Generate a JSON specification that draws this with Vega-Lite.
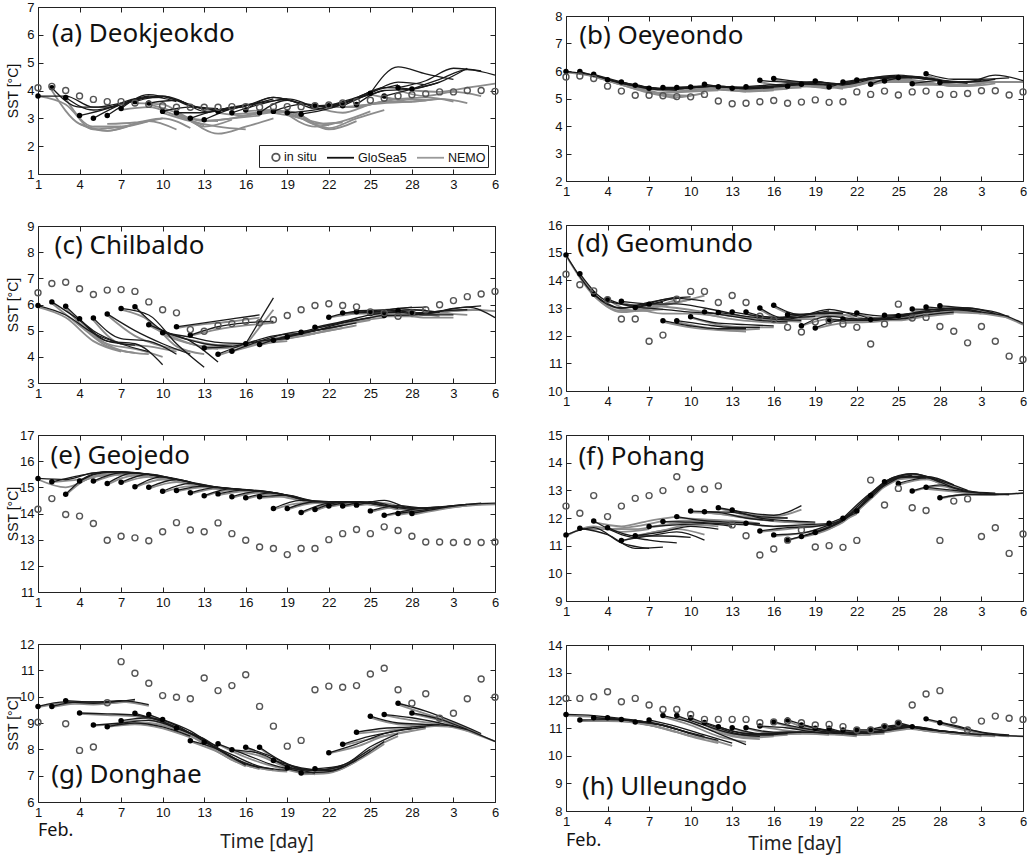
{
"padding": {"left": 5, "top": 0, "right": 4, "bottom": 4},
"background": "white",
"config": {
  "view": {"stroke": "#222", "strokeWidth": 1},
  "axis": {"domain": false, "grid": false, "ticks": true, "tickSize": -5, "tickColor": "#222", "tickWidth": 1, "labelFont": "Liberation Sans", "labelFontSize": 13, "labelColor": "#111", "labelPadding": 9, "labelFlush": false, "labelOverlap": false, "titleFont": "Liberation Sans", "titleFontSize": 14, "titleFontWeight": "normal", "titleColor": "#111"},
  "text": {"font": "Noto Sans", "fontSize": 26, "align": "left", "baseline": "alphabetic", "color": "#111"}
},
"datasets": {
"obs": [
{"p":"a","d":[1,2,3,4,5,6,7,8,9,10,11,12,13,14,15,16,17,18,19,20,21,22,23,24,25,26,27,28,29,30,31,32,33,34],"v":[4.1,4.15,4.0,3.8,3.68,3.6,3.6,3.55,3.5,3.45,3.4,3.4,3.4,3.4,3.42,3.42,3.4,3.42,3.42,3.42,3.45,3.48,3.55,3.6,3.65,3.72,3.8,3.85,3.88,3.95,3.95,4.0,4.0,3.97]},
{"p":"b","d":[1,2,3,4,5,6,7,8,9,10,11,12,13,14,15,16,17,18,19,20,21,22,23,24,25,26,27,28,29,30,31,32,33,34],"v":[5.78,5.82,5.73,5.45,5.27,5.12,5.12,5.1,5.07,5.06,5.15,4.91,4.81,4.83,4.88,4.93,4.83,4.87,4.95,4.86,4.88,5.24,5.15,5.27,5.13,5.24,5.27,5.15,5.15,5.18,5.28,5.28,5.13,5.24]},
{"p":"c","d":[1,2,3,4,5,6,7,8,9,10,11,12,13,14,15,16,17,18,19,20,21,22,23,24,25,26,27,28,29,30,31,32,33,34],"v":[6.45,6.8,6.85,6.6,6.38,6.55,6.57,6.5,6.1,5.8,5.68,5.04,4.98,5.2,5.27,5.36,5.3,5.42,5.58,5.8,5.96,6.03,5.96,5.91,5.72,5.68,5.55,5.68,5.8,5.99,6.15,6.3,6.4,6.5]},
{"p":"d","d":[1,2,3,4,5,6,7,8,9,10,11,12,13,14,15,16,17,18,19,20,21,22,23,24,25,26,27,28,29,30,31,32,33,34],"v":[14.22,13.84,13.62,13.3,12.6,12.6,11.8,12.02,13.32,13.6,13.6,13.2,13.45,13.2,12.7,12.58,12.3,12.13,12.5,12.54,12.42,12.3,11.7,12.42,13.14,12.64,12.66,12.33,12.16,11.74,12.33,11.8,11.26,11.14]},
{"p":"e","d":[1,2,3,4,5,6,7,8,9,10,11,12,13,14,15,16,17,18,19,20,21,22,23,24,25,26,27,28,29,30,31,32,33,34],"v":[14.16,14.57,13.96,13.9,13.62,12.98,13.13,13.07,12.96,13.3,13.65,13.37,13.3,13.64,13.23,12.98,12.72,12.66,12.43,12.66,12.66,13.0,13.23,13.39,13.23,13.49,13.35,13.13,12.91,12.91,12.89,12.91,12.89,12.91]},
{"p":"f","d":[1,2,3,4,5,6,7,8,9,10,11,12,13,14,15,16,17,18,19,20,21,22,23,24,25,26,27,28,29,30,31,32,33,34],"v":[12.43,12.17,12.81,12.05,12.43,12.71,12.81,12.99,13.49,13.04,13.04,13.16,11.75,11.36,10.66,10.88,11.2,11.57,10.95,11.0,10.94,11.19,13.37,12.47,13.07,12.37,12.27,11.19,12.61,12.69,11.33,11.65,10.72,11.42]},
{"p":"g","d":[1,2,3,4,5,6,7,8,9,10,11,12,13,14,15,16,17,18,19,20,21,22,23,24,25,26,27,28,29,30,31,32,33,34],"v":[9.03,null,8.97,7.96,8.09,9.77,11.33,10.89,10.51,10.04,9.98,9.92,10.71,10.23,10.42,10.83,9.63,8.88,8.12,8.34,10.26,10.4,10.36,10.42,10.86,11.08,10.26,9.75,10.11,9.18,9.37,9.92,10.67,9.98]},
{"p":"h","d":[1,2,3,4,5,6,7,8,9,10,11,12,13,14,15,16,17,18,19,20,21,22,23,24,25,26,27,28,29,30,31,32,33,34],"v":[12.07,12.07,12.13,12.31,11.95,12.07,11.83,11.67,11.67,11.49,11.31,11.31,11.31,11.31,11.19,11.22,11.25,11.19,11.11,11.13,11.05,10.93,10.93,11.05,11.17,11.83,12.23,12.35,11.29,10.93,11.25,11.43,11.35,11.31]}
],
"fc": [
{"p":"a","f":1,"d":[1,3,5,7],"g":[3.8,3.8,3.4,3.55],"n":[3.8,3.5,2.6,2.7]},
{"p":"a","f":2,"d":[2,4,6,8],"g":[4.1,3.4,3.4,3.7],"n":[4.0,2.8,2.55,2.8]},
{"p":"a","f":3,"d":[3,5,7,9],"g":[3.75,3.3,3.5,3.8],"n":[3.7,2.7,2.7,2.9]},
{"p":"a","f":4,"d":[4,6,8,10],"g":[3.1,3.35,3.7,3.75],"n":[2.8,2.55,2.8,3.0]},
{"p":"a","f":5,"d":[5,7,9,11],"g":[3.0,3.5,3.8,3.6],"n":[2.7,2.7,2.9,2.6]},
{"p":"a","f":6,"d":[6,8,10,12],"g":[3.1,3.65,3.8,3.45],"n":[2.8,2.85,3.0,2.65]},
{"p":"a","f":7,"d":[7,9,11,13],"g":[3.35,3.85,3.65,3.3],"n":[3.3,3.4,3.1,2.75]},
{"p":"a","f":8,"d":[8,10,12,14],"g":[3.6,3.8,3.45,3.35],"n":[3.55,3.5,3.0,2.9]},
{"p":"a","f":9,"d":[9,11,13,15],"g":[3.55,3.65,3.25,3.4],"n":[3.5,3.2,2.7,2.95]},
{"p":"a","f":10,"d":[10,12,14,16],"g":[3.25,3.4,3.3,3.45],"n":[3.2,2.9,2.7,2.6]},
{"p":"a","f":11,"d":[11,13,15,17],"g":[3.2,3.2,3.4,3.55],"n":[3.15,2.9,3.0,3.1]},
{"p":"a","f":12,"d":[12,14,16,18],"g":[3.0,3.3,3.45,3.7],"n":[2.95,2.45,2.7,3.0]},
{"p":"a","f":13,"d":[13,15,17,19],"g":[2.95,3.35,3.55,3.7],"n":[2.9,3.0,3.2,3.25]},
{"p":"a","f":14,"d":[14,16,18,20],"g":[3.25,3.45,3.75,3.5],"n":[3.2,3.1,3.3,3.0]},
{"p":"a","f":15,"d":[15,17,19,21],"g":[3.2,3.5,3.7,3.35],"n":[3.15,3.2,3.25,2.8]},
{"p":"a","f":16,"d":[16,18,20,22],"g":[3.3,3.75,3.55,3.4],"n":[3.25,3.3,3.0,2.75]},
{"p":"a","f":17,"d":[17,19,21,23],"g":[3.2,3.65,3.35,3.55],"n":[3.15,3.25,2.8,2.85]},
{"p":"a","f":18,"d":[18,20,22,24],"g":[3.25,3.5,3.4,3.75],"n":[3.2,3.0,2.6,2.9]},
{"p":"a","f":19,"d":[19,21,23,25],"g":[3.2,3.3,3.55,3.9],"n":[3.15,2.7,2.9,3.25]},
{"p":"a","f":20,"d":[20,22,24,26],"g":[3.15,3.35,3.7,4.0],"n":[3.1,2.65,3.0,3.3]},
{"p":"a","f":21,"d":[21,23,25,27],"g":[3.45,3.55,3.95,4.2],"n":[3.4,3.2,3.5,3.7]},
{"p":"a","f":22,"d":[22,24,26,28],"g":[3.45,3.75,4.1,4.05],"n":[3.4,3.4,3.6,3.6]},
{"p":"a","f":23,"d":[23,25,27,29],"g":[3.45,3.9,4.3,4.2],"n":[3.4,3.5,3.7,3.65]},
{"p":"a","f":24,"d":[24,26,28,30],"g":[3.5,4.0,4.05,4.3],"n":[3.45,3.55,3.6,3.7]},
{"p":"a","f":25,"d":[25,27,29,31],"g":[3.9,4.85,4.6,4.4],"n":[3.85,3.7,3.75,3.6]},
{"p":"a","f":26,"d":[26,28,30,32],"g":[3.8,4.05,4.3,4.8],"n":[3.75,3.6,3.7,3.55]},
{"p":"a","f":27,"d":[27,29,31,33],"g":[4.1,4.35,4.8,4.7],"n":[4.0,3.8,3.95,3.8]},
{"p":"a","f":28,"d":[28,30,32,34],"g":[4.05,4.4,4.75,4.55],"n":[4.0,3.95,4.1,4.25]},
{"p":"b","f":1,"d":[1,3,5,7],"g":[5.98,5.85,5.55,5.4],"n":[5.95,5.8,5.5,5.3]},
{"p":"b","f":2,"d":[2,4,6,8],"g":[5.98,5.7,5.45,5.35],"n":[5.95,5.65,5.35,5.15]},
{"p":"b","f":3,"d":[3,5,7,9],"g":[5.88,5.6,5.35,5.3],"n":[5.85,5.5,5.2,5.0]},
{"p":"b","f":4,"d":[4,6,8,10],"g":[5.68,5.5,5.35,5.4],"n":[5.65,5.4,5.15,5.1]},
{"p":"b","f":5,"d":[5,7,9,11],"g":[5.6,5.4,5.35,5.45],"n":[5.55,5.25,5.05,5.2]},
{"p":"b","f":6,"d":[6,8,10,12],"g":[5.48,5.35,5.4,5.45],"n":[5.45,5.2,5.25,5.3]},
{"p":"b","f":7,"d":[7,9,11,13],"g":[5.37,5.35,5.45,5.4],"n":[5.35,5.25,5.35,5.3]},
{"p":"b","f":8,"d":[8,10,12,14],"g":[5.4,5.4,5.45,5.35],"n":[5.38,5.3,5.35,5.25]},
{"p":"b","f":9,"d":[9,11,13,15],"g":[5.4,5.45,5.4,5.4],"n":[5.38,5.35,5.3,5.3]},
{"p":"b","f":10,"d":[10,12,14,16],"g":[5.42,5.45,5.35,5.4],"n":[5.4,5.35,5.25,5.3]},
{"p":"b","f":11,"d":[11,13,15,17],"g":[5.52,5.4,5.4,5.45],"n":[5.5,5.3,5.3,5.35]},
{"p":"b","f":12,"d":[12,14,16,18],"g":[5.43,5.4,5.45,5.5],"n":[5.4,5.3,5.35,5.4]},
{"p":"b","f":13,"d":[13,15,17,19],"g":[5.37,5.4,5.5,5.55],"n":[5.35,5.3,5.4,5.45]},
{"p":"b","f":14,"d":[14,16,18,20],"g":[5.43,5.5,5.55,5.5],"n":[5.4,5.4,5.45,5.35]},
{"p":"b","f":15,"d":[15,17,19,21],"g":[5.66,5.6,5.6,5.5],"n":[5.6,5.45,5.45,5.35]},
{"p":"b","f":16,"d":[16,18,20,22],"g":[5.73,5.6,5.5,5.6],"n":[5.7,5.5,5.4,5.5]},
{"p":"b","f":17,"d":[17,19,21,23],"g":[5.45,5.6,5.5,5.7],"n":[5.42,5.5,5.4,5.6]},
{"p":"b","f":18,"d":[18,20,22,24],"g":[5.52,5.5,5.65,5.75],"n":[5.5,5.4,5.55,5.65]},
{"p":"b","f":19,"d":[19,21,23,25],"g":[5.64,5.5,5.75,5.8],"n":[5.6,5.4,5.6,5.7]},
{"p":"b","f":20,"d":[20,22,24,26],"g":[5.42,5.65,5.75,5.75],"n":[5.4,5.55,5.65,5.6]},
{"p":"b","f":21,"d":[21,23,25,27],"g":[5.6,5.75,5.85,5.7],"n":[5.55,5.6,5.7,5.6]},
{"p":"b","f":22,"d":[22,24,26,28],"g":[5.67,5.75,5.8,5.65],"n":[5.65,5.65,5.65,5.5]},
{"p":"b","f":23,"d":[23,25,27,29],"g":[5.52,5.8,5.7,5.6],"n":[5.5,5.65,5.55,5.45]},
{"p":"b","f":24,"d":[24,26,28,30],"g":[5.64,5.8,5.65,5.55],"n":[5.6,5.6,5.5,5.45]},
{"p":"b","f":25,"d":[25,27,29,31],"g":[5.76,5.75,5.6,5.65],"n":[5.7,5.6,5.45,5.5]},
{"p":"b","f":26,"d":[26,28,30,32],"g":[5.54,5.65,5.6,5.7],"n":[5.5,5.5,5.45,5.55]},
{"p":"b","f":27,"d":[27,29,31,33],"g":[5.9,5.7,5.7,5.75],"n":[5.85,5.6,5.6,5.6]},
{"p":"b","f":28,"d":[28,30,32,34],"g":[5.58,5.6,5.85,5.65],"n":[5.55,5.5,5.6,5.6]},
{"p":"c","f":1,"d":[1,3,5,7],"g":[5.96,5.6,4.9,4.5],"n":[5.9,5.5,4.6,4.2]},
{"p":"c","f":2,"d":[2,4,6,8],"g":[6.1,5.4,4.6,4.45],"n":[6.05,5.2,4.4,4.15]},
{"p":"c","f":3,"d":[3,5,7,9],"g":[5.93,5.0,4.5,4.2],"n":[5.85,4.8,4.25,4.1]},
{"p":"c","f":4,"d":[4,6,8,10],"g":[5.46,4.6,4.5,3.7],"n":[5.4,4.5,4.3,4.0]},
{"p":"c","f":5,"d":[5,7,9,11],"g":[5.48,4.7,4.6,4.1],"n":[5.4,4.5,4.4,4.2]},
{"p":"c","f":6,"d":[6,8,10,12],"g":[5.64,5.0,4.5,4.1],"n":[5.6,4.8,4.4,4.2]},
{"p":"c","f":7,"d":[7,9,11,13],"g":[5.85,5.6,4.5,3.6],"n":[5.8,5.4,4.4,4.1]},
{"p":"c","f":8,"d":[8,10,12,14],"g":[5.91,5.0,4.6,3.8],"n":[5.95,4.9,4.5,4.3]},
{"p":"c","f":9,"d":[9,11,13,15],"g":[5.23,4.8,4.5,4.4],"n":[5.2,4.7,4.4,4.4]},
{"p":"c","f":10,"d":[10,12,14,16],"g":[4.92,4.75,4.55,4.5],"n":[4.9,4.65,4.45,4.5]},
{"p":"c","f":11,"d":[11,13,15,17],"g":[5.15,5.3,5.45,5.6],"n":[5.1,5.25,5.35,5.5]},
{"p":"c","f":12,"d":[12,14,16,18],"g":[4.83,5.15,5.3,5.35],"n":[4.8,5.05,5.2,5.3]},
{"p":"c","f":13,"d":[13,15,17,19],"g":[4.34,4.4,4.6,4.7],"n":[4.3,4.35,4.5,4.6]},
{"p":"c","f":14,"d":[14,16,18,20],"g":[4.1,4.5,4.8,4.9],"n":[4.05,4.4,4.7,4.8]},
{"p":"c","f":15,"d":[15,17,19,21],"g":[4.21,4.6,4.9,5.0],"n":[4.2,4.5,4.8,4.9]},
{"p":"c","f":16,"d":[16,18],"g":[4.5,6.25],"n":[4.45,5.8]},
{"p":"c","f":17,"d":[17,19,21,23],"g":[4.47,4.8,5.0,5.2],"n":[4.45,4.7,4.9,5.1]},
{"p":"c","f":18,"d":[18,20,22,24],"g":[4.63,4.9,5.1,5.3],"n":[4.6,4.8,5.0,5.2]},
{"p":"c","f":19,"d":[19,21,23,25],"g":[4.76,5.0,5.3,5.5],"n":[4.7,4.9,5.2,5.4]},
{"p":"c","f":20,"d":[20,22,24,26],"g":[4.94,5.2,5.4,5.6],"n":[4.9,5.1,5.35,5.5]},
{"p":"c","f":21,"d":[21,23,25,27],"g":[5.13,5.35,5.6,5.75],"n":[5.1,5.3,5.5,5.65]},
{"p":"c","f":22,"d":[22,24,26,28],"g":[5.51,5.75,5.8,5.9],"n":[5.5,5.65,5.7,5.8]},
{"p":"c","f":23,"d":[23,25,27,29],"g":[5.68,5.7,5.85,5.9],"n":[5.65,5.65,5.75,5.8]},
{"p":"c","f":24,"d":[24,26,28,30],"g":[5.72,5.75,5.8,5.7],"n":[5.7,5.65,5.65,5.55]},
{"p":"c","f":25,"d":[25,27,29,31],"g":[5.66,5.7,5.6,5.6],"n":[5.6,5.6,5.5,5.5]},
{"p":"c","f":26,"d":[26,28,30,32],"g":[5.58,5.6,5.75,5.8],"n":[5.55,5.55,5.65,5.6]},
{"p":"c","f":27,"d":[27,29,31,33],"g":[5.77,5.65,5.85,5.95],"n":[5.7,5.6,5.75,5.8]},
{"p":"c","f":28,"d":[28,30,32,34],"g":[5.68,5.75,5.9,5.5],"n":[5.65,5.7,5.8,5.75]},
{"p":"d","f":1,"d":[1,3,5,7],"g":[14.92,13.5,13.0,13.1],"n":[14.9,13.45,12.9,12.9]},
{"p":"d","f":2,"d":[2,4,6,8],"g":[14.24,13.25,13.1,13.2],"n":[14.2,13.1,12.9,12.95]},
{"p":"d","f":3,"d":[3,5,7,9],"g":[13.5,13.0,13.2,13.4],"n":[13.45,12.85,13.0,13.3]},
{"p":"d","f":4,"d":[4,6,8,10],"g":[13.32,13.05,13.3,13.4],"n":[13.3,12.9,13.1,13.3]},
{"p":"d","f":5,"d":[5,7,9,11],"g":[13.24,13.15,13.35,13.25],"n":[13.2,13.0,13.2,13.45]},
{"p":"d","f":6,"d":[6,8,10,12],"g":[13.02,12.95,12.85,12.8],"n":[13.0,12.8,12.8,12.7]},
{"p":"d","f":7,"d":[7,9,11,13],"g":[13.14,13.15,13.0,12.8],"n":[13.1,13.0,12.85,12.7]},
{"p":"d","f":8,"d":[8,10,12,14],"g":[12.54,12.35,12.25,12.25],"n":[12.5,12.3,12.2,12.15]},
{"p":"d","f":9,"d":[9,11,13,15],"g":[12.54,12.4,12.3,12.3],"n":[12.5,12.3,12.2,12.25]},
{"p":"d","f":10,"d":[10,12,14,16],"g":[12.68,12.45,12.4,12.35],"n":[12.65,12.4,12.3,12.3]},
{"p":"d","f":11,"d":[11,13,15,17],"g":[12.86,12.7,12.55,12.5],"n":[12.8,12.6,12.5,12.45]},
{"p":"d","f":12,"d":[12,14,16,18],"g":[12.84,12.7,12.6,12.55],"n":[12.8,12.65,12.55,12.5]},
{"p":"d","f":13,"d":[13,15,17,19],"g":[12.86,12.7,12.65,12.7],"n":[12.8,12.6,12.6,12.6]},
{"p":"d","f":14,"d":[14,16,18,20],"g":[12.86,12.65,12.75,12.9],"n":[12.8,12.6,12.7,12.8]},
{"p":"d","f":15,"d":[15,17,19,21],"g":[13.0,12.6,12.8,12.8],"n":[12.95,12.55,12.7,12.7]},
{"p":"d","f":16,"d":[16,18,20,22],"g":[13.1,12.75,12.95,12.7],"n":[13.05,12.7,12.85,12.6]},
{"p":"d","f":17,"d":[17,19,21,23],"g":[12.76,12.8,12.85,12.6],"n":[12.7,12.7,12.75,12.55]},
{"p":"d","f":18,"d":[18,20,22,24],"g":[12.36,12.7,12.6,12.65],"n":[12.35,12.6,12.5,12.55]},
{"p":"d","f":19,"d":[19,21,23,25],"g":[12.28,12.55,12.55,12.7],"n":[12.25,12.45,12.5,12.6]},
{"p":"d","f":20,"d":[20,22,24,26],"g":[12.58,12.55,12.6,12.75],"n":[12.55,12.5,12.55,12.7]},
{"p":"d","f":21,"d":[21,23,25,27],"g":[12.6,12.6,12.7,12.85],"n":[12.55,12.5,12.6,12.75]},
{"p":"d","f":22,"d":[22,24,26,28],"g":[12.82,12.7,12.8,12.9],"n":[12.8,12.6,12.7,12.8]},
{"p":"d","f":23,"d":[23,25,27,29],"g":[12.58,12.6,12.75,12.85],"n":[12.55,12.55,12.7,12.8]},
{"p":"d","f":24,"d":[24,26,28,30],"g":[12.74,12.8,12.9,12.95],"n":[12.7,12.75,12.8,12.9]},
{"p":"d","f":25,"d":[25,27,29,31],"g":[12.72,12.9,13.0,12.85],"n":[12.7,12.8,12.9,12.8]},
{"p":"d","f":26,"d":[26,28,30,32],"g":[12.96,12.95,13.0,12.8],"n":[12.9,12.85,12.95,12.75]},
{"p":"d","f":27,"d":[27,29,31,33],"g":[13.04,12.95,12.85,12.7],"n":[13.0,12.85,12.8,12.65]},
{"p":"d","f":28,"d":[28,30,32,34],"g":[13.08,13.0,12.85,12.45],"n":[13.0,12.95,12.8,12.4]},
{"p":"e","f":1,"d":[1,3,5,7],"g":[15.34,15.3,15.55,15.6],"n":[15.3,15.0,15.4,15.55]},
{"p":"e","f":2,"d":[2,4,6,8],"g":[15.21,15.45,15.6,15.55],"n":[15.2,15.3,15.5,15.5]},
{"p":"e","f":3,"d":[3,5,7,9],"g":[14.74,15.5,15.6,15.5],"n":[14.7,15.4,15.5,15.45]},
{"p":"e","f":4,"d":[4,6,8,10],"g":[15.24,15.6,15.55,15.4],"n":[15.2,15.5,15.5,15.35]},
{"p":"e","f":5,"d":[5,7,9,11],"g":[15.24,15.55,15.5,15.3],"n":[15.2,15.5,15.45,15.25]},
{"p":"e","f":6,"d":[6,8,10,12],"g":[15.15,15.55,15.4,15.2],"n":[15.1,15.45,15.35,15.15]},
{"p":"e","f":7,"d":[7,9,11,13],"g":[15.19,15.5,15.3,15.05],"n":[15.15,15.4,15.25,15.0]},
{"p":"e","f":8,"d":[8,10,12,14],"g":[15.02,15.4,15.2,15.0],"n":[15.0,15.3,15.15,14.95]},
{"p":"e","f":9,"d":[9,11,13,15],"g":[15.0,15.3,15.05,14.95],"n":[14.95,15.2,15.0,14.9]},
{"p":"e","f":10,"d":[10,12,14,16],"g":[14.85,15.15,15.0,14.9],"n":[14.8,15.05,14.95,14.85]},
{"p":"e","f":11,"d":[11,13,15,17],"g":[14.88,15.05,14.95,14.85],"n":[14.85,15.0,14.9,14.8]},
{"p":"e","f":12,"d":[12,14,16,18],"g":[14.79,15.0,14.9,14.8],"n":[14.75,14.95,14.85,14.75]},
{"p":"e","f":13,"d":[13,15,17,19],"g":[14.68,14.95,14.85,14.7],"n":[14.65,14.9,14.8,14.65]},
{"p":"e","f":14,"d":[14,16,18,20],"g":[14.75,14.9,14.8,14.55],"n":[14.7,14.85,14.75,14.5]},
{"p":"e","f":15,"d":[15,17,19,21],"g":[14.64,14.85,14.7,14.45],"n":[14.6,14.8,14.6,14.4]},
{"p":"e","f":16,"d":[16,18,20,22],"g":[14.6,14.8,14.55,14.45],"n":[14.55,14.75,14.5,14.4]},
{"p":"e","f":17,"d":[17,19,21,23],"g":[14.64,14.7,14.45,14.45],"n":[14.6,14.65,14.4,14.4]},
{"p":"e","f":18,"d":[18,20,22,24],"g":[14.19,14.5,14.45,14.45],"n":[14.15,14.4,14.4,14.4]},
{"p":"e","f":19,"d":[19,21,23,25],"g":[14.19,14.45,14.45,14.4],"n":[14.15,14.4,14.4,14.35]},
{"p":"e","f":20,"d":[20,22,24,26],"g":[14.04,14.4,14.45,14.3],"n":[14.0,14.35,14.4,14.25]},
{"p":"e","f":21,"d":[21,23,25,27],"g":[14.15,14.45,14.4,14.2],"n":[14.1,14.4,14.35,14.15]},
{"p":"e","f":22,"d":[22,24,26,28],"g":[14.29,14.45,14.3,14.15],"n":[14.25,14.4,14.25,14.1]},
{"p":"e","f":23,"d":[23,25,27,29],"g":[14.29,14.45,14.25,14.2],"n":[14.25,14.4,14.2,14.15]},
{"p":"e","f":24,"d":[24,26,28,30],"g":[14.32,14.5,14.2,14.25],"n":[14.3,14.4,14.15,14.2]},
{"p":"e","f":25,"d":[25,27,29,31],"g":[14.1,14.3,14.2,14.3],"n":[14.05,14.25,14.15,14.25]},
{"p":"e","f":26,"d":[26,28,30,32],"g":[13.93,14.15,14.25,14.35],"n":[13.9,14.1,14.2,14.3]},
{"p":"e","f":27,"d":[27,29,31,33],"g":[14.0,14.15,14.3,14.4],"n":[13.95,14.1,14.25,14.35]},
{"p":"e","f":28,"d":[28,30,32,34],"g":[14.0,14.2,14.35,14.4],"n":[13.95,14.15,14.3,14.35]},
{"p":"f","f":1,"d":[1,3,5,7],"g":[11.39,11.65,11.1,10.9],"n":[11.35,11.7,11.5,11.6]},
{"p":"f","f":2,"d":[2,4,6,8],"g":[11.63,11.4,10.9,10.95],"n":[11.6,11.6,11.7,11.9]},
{"p":"f","f":3,"d":[3,5,7,9],"g":[11.89,11.4,11.2,11.1],"n":[11.85,11.7,11.9,12.05]},
{"p":"f","f":4,"d":[4,6,8,10],"g":[11.65,11.35,11.35,11.3],"n":[11.6,11.6,11.75,11.85]},
{"p":"f","f":5,"d":[5,7,9,11],"g":[11.19,11.35,11.5,11.2],"n":[11.15,11.45,11.6,11.4]},
{"p":"f","f":6,"d":[6,8,10,12],"g":[11.36,11.5,11.7,11.6],"n":[11.35,11.55,11.75,11.7]},
{"p":"f","f":7,"d":[7,9,11,13],"g":[11.69,11.75,11.8,11.7],"n":[11.65,11.8,11.85,11.75]},
{"p":"f","f":8,"d":[8,10,12,14],"g":[11.87,11.85,11.8,11.75],"n":[11.85,11.9,11.85,11.8]},
{"p":"f","f":9,"d":[9,11,13,15],"g":[12.05,11.9,11.85,11.8],"n":[12.0,11.95,11.9,11.8]},
{"p":"f","f":10,"d":[10,12,14,16],"g":[12.25,12.2,12.0,11.9],"n":[12.2,12.15,12.0,11.9]},
{"p":"f","f":11,"d":[11,13,15,17],"g":[12.23,12.2,12.05,12.0],"n":[12.2,12.1,12.0,12.0]},
{"p":"f","f":12,"d":[12,14,16,18],"g":[12.37,12.2,12.1,12.45],"n":[12.35,12.15,12.05,12.3]},
{"p":"f","f":13,"d":[13,15,17,19],"g":[12.29,12.0,11.9,11.85],"n":[12.25,11.95,11.85,11.8]},
{"p":"f","f":14,"d":[14,16,18,20],"g":[11.81,11.7,11.75,11.8],"n":[11.8,11.7,11.7,11.75]},
{"p":"f","f":15,"d":[15,17,19,21],"g":[11.53,11.65,11.7,11.9],"n":[11.5,11.6,11.7,11.85]},
{"p":"f","f":16,"d":[16,18,20,22],"g":[11.39,11.45,11.75,12.2],"n":[11.35,11.45,11.7,12.15]},
{"p":"f","f":17,"d":[17,19,21,23],"g":[11.2,11.5,11.9,12.8],"n":[11.2,11.45,11.85,12.75]},
{"p":"f","f":18,"d":[18,20,22,24],"g":[11.33,11.65,12.3,13.2],"n":[11.3,11.6,12.25,13.15]},
{"p":"f","f":19,"d":[19,21,23,25],"g":[11.48,11.95,12.85,13.45],"n":[11.45,11.9,12.8,13.4]},
{"p":"f","f":20,"d":[20,22,24,26],"g":[11.81,12.3,13.25,13.55],"n":[11.8,12.25,13.2,13.5]},
{"p":"f","f":21,"d":[21,23,25,27],"g":[11.99,12.9,13.5,13.45],"n":[11.95,12.85,13.45,13.4]},
{"p":"f","f":22,"d":[22,24,26,28],"g":[12.25,13.3,13.6,13.3],"n":[12.2,13.25,13.55,13.25]},
{"p":"f","f":23,"d":[23,25,27,29],"g":[12.81,13.45,13.5,13.2],"n":[12.8,13.4,13.45,13.15]},
{"p":"f","f":24,"d":[24,26,28,30],"g":[13.31,13.6,13.35,13.0],"n":[13.25,13.55,13.3,12.95]},
{"p":"f","f":25,"d":[25,27,29,31],"g":[13.25,13.45,13.1,12.9],"n":[13.2,13.4,13.05,12.9]},
{"p":"f","f":26,"d":[26,28,30,32],"g":[12.98,13.2,12.95,12.9],"n":[12.95,13.15,12.9,12.85]},
{"p":"f","f":27,"d":[27,29,31,33],"g":[13.11,13.0,12.9,12.85],"n":[13.05,12.95,12.85,12.85]},
{"p":"f","f":28,"d":[28,30,32,34],"g":[12.73,12.85,12.85,12.9],"n":[12.7,12.85,12.85,12.9]},
{"p":"g","f":1,"d":[1,3,5,7],"g":[9.63,9.8,9.75,9.85],"n":[9.6,9.75,9.7,9.8]},
{"p":"g","f":2,"d":[2,4,6,8],"g":[9.63,9.8,9.8,9.9],"n":[9.6,9.75,9.75,9.85]},
{"p":"g","f":3,"d":[3,5,7,9],"g":[9.85,9.8,9.85,9.7],"n":[9.8,9.75,9.8,9.65]},
{"p":"g","f":4,"d":[4,6,8,10],"g":[9.38,9.35,9.3,9.1],"n":[9.35,9.3,9.25,9.05]},
{"p":"g","f":5,"d":[5,7,9,11],"g":[8.92,9.0,9.1,8.8],"n":[8.9,8.95,9.0,8.75]},
{"p":"g","f":6,"d":[6,8,10,12],"g":[8.86,9.0,8.85,8.5],"n":[8.85,8.95,8.8,8.45]},
{"p":"g","f":7,"d":[7,9,11,13],"g":[9.09,9.2,8.8,8.4],"n":[9.05,9.1,8.75,8.3]},
{"p":"g","f":8,"d":[8,10,12,14],"g":[9.37,9.05,8.6,8.1],"n":[9.3,9.0,8.5,8.0]},
{"p":"g","f":9,"d":[9,11,13,15],"g":[9.32,8.9,8.3,7.7],"n":[9.3,8.85,8.2,7.6]},
{"p":"g","f":10,"d":[10,12,14,16],"g":[9.13,8.7,8.0,7.4],"n":[9.1,8.6,7.9,7.35]},
{"p":"g","f":11,"d":[11,13,15,17],"g":[8.81,8.4,7.7,7.3],"n":[8.8,8.3,7.6,7.25]},
{"p":"g","f":12,"d":[12,14,16,18],"g":[8.33,8.0,7.45,7.25],"n":[8.3,7.9,7.4,7.2]},
{"p":"g","f":13,"d":[13,15,17,19],"g":[8.27,7.8,7.35,7.2],"n":[8.25,7.7,7.3,7.15]},
{"p":"g","f":14,"d":[14,16,18,20],"g":[8.21,7.8,7.4,7.15],"n":[8.2,7.7,7.35,7.1]},
{"p":"g","f":15,"d":[15,17,19,21],"g":[7.98,7.85,7.35,7.1],"n":[7.95,7.75,7.3,7.05]},
{"p":"g","f":16,"d":[16,18,20,22],"g":[8.08,7.7,7.25,7.2],"n":[8.05,7.6,7.2,7.1]},
{"p":"g","f":17,"d":[17,19,21,23],"g":[8.08,7.45,7.2,7.35],"n":[8.05,7.4,7.15,7.3]},
{"p":"g","f":18,"d":[18,20,22,24],"g":[7.58,7.3,7.2,7.6],"n":[7.55,7.25,7.15,7.55]},
{"p":"g","f":19,"d":[19,21,23,25],"g":[7.3,7.2,7.4,8.0],"n":[7.25,7.15,7.35,7.9]},
{"p":"g","f":20,"d":[20,22,24,26],"g":[7.1,7.15,7.6,8.3],"n":[7.05,7.1,7.55,8.2]},
{"p":"g","f":21,"d":[21,23,25,27],"g":[7.26,7.4,8.1,8.6],"n":[7.2,7.35,8.0,8.5]},
{"p":"g","f":22,"d":[22,24,26,28],"g":[7.87,8.2,8.6,8.8],"n":[7.85,8.1,8.5,8.7]},
{"p":"g","f":23,"d":[23,25,27,29],"g":[8.19,8.5,8.7,8.85],"n":[8.15,8.4,8.6,8.8]},
{"p":"g","f":24,"d":[24,26,28,30],"g":[8.65,8.8,8.85,8.95],"n":[8.6,8.7,8.8,8.9]},
{"p":"g","f":25,"d":[25,27,29,31],"g":[9.26,9.0,8.95,8.9],"n":[9.2,8.95,8.9,8.85]},
{"p":"g","f":26,"d":[26,28,30,32],"g":[9.32,9.2,9.0,8.75],"n":[9.3,9.1,8.95,8.7]},
{"p":"g","f":27,"d":[27,29,31,33],"g":[9.75,9.45,9.05,8.6],"n":[9.7,9.35,9.0,8.55]},
{"p":"g","f":28,"d":[28,30,32,34],"g":[9.38,9.15,8.75,8.3],"n":[9.35,9.1,8.7,8.3]},
{"p":"h","f":1,"d":[1,3,5,7],"g":[11.49,11.45,11.35,11.2],"n":[11.45,11.4,11.3,11.15]},
{"p":"h","f":2,"d":[2,4,6,8],"g":[11.29,11.3,11.25,11.1],"n":[11.25,11.25,11.2,11.0]},
{"p":"h","f":3,"d":[3,5,7,9],"g":[11.37,11.3,11.2,10.95],"n":[11.35,11.25,11.1,10.85]},
{"p":"h","f":4,"d":[4,6,8,10],"g":[11.37,11.25,11.1,10.8],"n":[11.35,11.2,11.0,10.7]},
{"p":"h","f":5,"d":[5,7,9,11],"g":[11.31,11.2,10.95,10.7],"n":[11.3,11.1,10.85,10.6]},
{"p":"h","f":6,"d":[6,8,10,12],"g":[11.22,11.1,10.8,10.55],"n":[11.2,11.0,10.7,10.45]},
{"p":"h","f":7,"d":[7,9,11,13],"g":[11.29,11.05,10.75,10.45],"n":[11.25,10.95,10.65,10.35]},
{"p":"h","f":8,"d":[8,10,12,14],"g":[11.45,11.2,10.8,10.4],"n":[11.4,11.1,10.7,10.5]},
{"p":"h","f":9,"d":[9,11,13,15],"g":[11.45,11.1,10.8,10.7],"n":[11.4,11.0,10.7,10.6]},
{"p":"h","f":10,"d":[10,12,14,16],"g":[11.37,11.0,10.75,10.75],"n":[11.35,10.9,10.65,10.7]},
{"p":"h","f":11,"d":[11,13,15,17],"g":[11.2,10.9,10.75,10.8],"n":[11.15,10.8,10.7,10.75]},
{"p":"h","f":12,"d":[12,14,16,18],"g":[11.05,10.8,10.8,10.85],"n":[11.0,10.7,10.75,10.8]},
{"p":"h","f":13,"d":[13,15,17,19],"g":[11.01,10.8,10.85,10.85],"n":[11.0,10.75,10.8,10.8]},
{"p":"h","f":14,"d":[14,16,18,20],"g":[11.01,10.85,10.85,10.8],"n":[11.0,10.8,10.8,10.75]},
{"p":"h","f":15,"d":[15,17,19,21],"g":[11.07,11.0,10.85,10.8],"n":[11.05,10.9,10.8,10.75]},
{"p":"h","f":16,"d":[16,18,20,22],"g":[11.22,11.0,10.85,10.75],"n":[11.2,10.95,10.8,10.7]},
{"p":"h","f":17,"d":[17,19,21,23],"g":[11.29,11.0,10.85,10.8],"n":[11.25,10.9,10.8,10.75]},
{"p":"h","f":18,"d":[18,20,22,24],"g":[11.11,10.9,10.8,10.85],"n":[11.1,10.85,10.75,10.8]},
{"p":"h","f":19,"d":[19,21,23,25],"g":[10.99,10.85,10.85,11.0],"n":[10.95,10.8,10.8,10.95]},
{"p":"h","f":20,"d":[20,22,24,26],"g":[10.99,10.8,10.9,11.05],"n":[10.95,10.75,10.85,11.0]},
{"p":"h","f":21,"d":[21,23,25,27],"g":[10.93,10.85,11.05,10.95],"n":[10.9,10.8,11.0,10.9]},
{"p":"h","f":22,"d":[22,24,26,28],"g":[10.93,10.95,11.05,10.9],"n":[10.9,10.9,11.0,10.85]},
{"p":"h","f":23,"d":[23,25,27,29],"g":[10.95,11.1,10.95,10.85],"n":[10.9,11.05,10.9,10.8]},
{"p":"h","f":24,"d":[24,26,28,30],"g":[11.05,11.05,10.9,10.8],"n":[11.0,11.0,10.85,10.75]},
{"p":"h","f":25,"d":[25,27,29,31],"g":[11.19,10.95,10.85,10.75],"n":[11.15,10.9,10.8,10.7]},
{"p":"h","f":26,"d":[26,28,30,32],"g":[11.05,10.9,10.8,10.75],"n":[11.0,10.85,10.75,10.7]},
{"p":"h","f":27,"d":[27,29,31,33],"g":[11.33,11.1,10.85,10.75],"n":[11.3,11.05,10.8,10.7]},
{"p":"h","f":28,"d":[28,30,32,34],"g":[11.19,10.95,10.75,10.7],"n":[11.15,10.9,10.75,10.7]}
]
},
"spacing": 45,
"resolve": {"scale": {"color": "independent", "shape": "independent"}, "legend": {"color": "independent", "shape": "independent"}},
"hconcat": [
{
"spacing": 52,
"bounds": "flush",
"resolve": {"scale": {"color": "independent", "shape": "independent"}, "legend": {"color": "independent", "shape": "independent"}},
"vconcat": [
{
"width": 457, "height": 167,
"layer": [
{"data": {"name": "fc"}, "transform": [{"filter": "datum.p=='a'"}, {"flatten": ["d", "g", "n"]}],
 "mark": {"type": "line", "stroke": "#8c8c8c", "strokeWidth": 1.8, "interpolate": "monotone"},
 "encoding": {
  "x": {"field": "d", "type": "quantitative", "scale": {"domain": [1, 34], "nice": false, "zero": false}, "axis": {"orient": "bottom", "values": [1,4,7,10,13,16,19,22,25,28,31,34], "labelExpr": "datum.value > 28 ? '' + (datum.value - 28) : datum.label", "title": null}},
  "y": {"field": "n", "type": "quantitative", "scale": {"domain": [1, 7], "nice": false, "zero": false}, "axis": {"orient": "left", "values": [1,2,3,4,5,6,7], "title": "SST [°C]", "titleX": -18}},
  "detail": {"field": "f"}}},
{"data": {"name": "fc"}, "transform": [{"filter": "datum.p=='a'"}, {"flatten": ["d", "g", "n"]}],
 "mark": {"type": "line", "stroke": "#1a1a1a", "strokeWidth": 1.3, "interpolate": "monotone"},
 "encoding": {
  "x": {"field": "d", "type": "quantitative", "scale": {"domain": [1, 34], "nice": false, "zero": false}, "axis": {"orient": "top", "values": [1,4,7,10,13,16,19,22,25,28,31,34], "labels": false, "title": null}},
  "y": {"field": "g", "type": "quantitative", "scale": {"domain": [1, 7], "nice": false, "zero": false}, "axis": {"orient": "right", "values": [1,2,3,4,5,6,7], "labels": false, "title": null}},
  "detail": {"field": "f"}}},
{"data": {"name": "fc"}, "transform": [{"filter": "datum.p=='a'"}, {"flatten": ["d", "g", "n"]}, {"filter": "datum.d==datum.f"}],
 "mark": {"type": "circle", "color": "#000", "size": 30, "opacity": 1},
 "encoding": {"x": {"field": "d", "type": "quantitative", "scale": {"domain": [1, 34], "nice": false, "zero": false}, "axis": null}, "y": {"field": "g", "type": "quantitative", "scale": {"domain": [1, 7], "nice": false, "zero": false}, "axis": null}}},
{"data": {"name": "obs"}, "transform": [{"filter": "datum.p=='a'"}, {"flatten": ["d", "v"]}],
 "mark": {"type": "point", "shape": "circle", "filled": false, "stroke": "#555", "strokeWidth": 1.4, "size": 36, "opacity": 1},
 "encoding": {"x": {"field": "d", "type": "quantitative", "scale": {"domain": [1, 34], "nice": false, "zero": false}, "axis": null}, "y": {"field": "v", "type": "quantitative", "scale": {"domain": [1, 7], "nice": false, "zero": false}, "axis": null}}},
{"data": {"values": [{"t": "(a) Deokjeokdo"}]},
 "mark": {"type": "text"},
 "encoding": {"x": {"datum": 2.0, "type": "quantitative", "axis": null}, "y": {"datum": 5.74, "type": "quantitative", "axis": null}, "text": {"field": "t"}}},
{"data": {"values": [{"k": "in situ"}, {"k": "GloSea5"}, {"k": "NEMO"}]},
 "mark": {"type": "point", "filled": false, "opacity": 0},
 "encoding": {"x": {"value": 0}, "y": {"value": 0},
  "color": {"field": "k", "type": "nominal", "scale": {"domain": ["in situ", "GloSea5", "NEMO"], "range": ["#555555", "#111111", "#999999"]},
   "legend": {"orient": "bottom-right", "offset": 7, "direction": "horizontal", "title": null, "strokeColor": "#222", "fillColor": "#ffffff", "padding": 2, "labelFont": "Liberation Sans", "labelFontSize": 12.5, "labelColor": "#111", "symbolSize": 324, "symbolStrokeWidth": 1.8, "symbolOpacity": 1, "labelOffset": 3, "columnPadding": 6, "labelLimit": 0,
    "encode": {"labels": {"fontStyle": {"condition": {"test": "datum.label == 'in situ'", "value": "italic"}, "value": "normal"}}}}},
  "shape": {"field": "k", "type": "nominal", "scale": {"domain": ["in situ", "GloSea5", "NEMO"], "range": ["M0.97,0A0.42,0.42 0 1,1 0.13,0A0.42,0.42 0 1,1 0.97,0Z", "M-2,0H1", "M-2,0H1"]},
   "legend": {"orient": "bottom-right", "offset": 7, "direction": "horizontal", "title": null, "strokeColor": "#222", "fillColor": "#ffffff", "padding": 2, "labelFont": "Liberation Sans", "labelFontSize": 12.5, "labelColor": "#111", "symbolSize": 324, "symbolStrokeWidth": 1.8, "symbolOpacity": 1, "labelOffset": 3, "columnPadding": 6, "labelLimit": 0,
    "encode": {"labels": {"fontStyle": {"condition": {"test": "datum.label == 'in situ'", "value": "italic"}, "value": "normal"}}}}}}}
],
"resolve": {"axis": {"x": "independent", "y": "independent"}}
},
{
"width": 457, "height": 157,
"layer": [
{"data": {"name": "fc"}, "transform": [{"filter": "datum.p=='c'"}, {"flatten": ["d", "g", "n"]}],
 "mark": {"type": "line", "stroke": "#8c8c8c", "strokeWidth": 1.8, "interpolate": "monotone"},
 "encoding": {
  "x": {"field": "d", "type": "quantitative", "scale": {"domain": [1, 34], "nice": false, "zero": false}, "axis": {"orient": "bottom", "values": [1,4,7,10,13,16,19,22,25,28,31,34], "labelExpr": "datum.value > 28 ? '' + (datum.value - 28) : datum.label", "title": null}},
  "y": {"field": "n", "type": "quantitative", "scale": {"domain": [3, 9], "nice": false, "zero": false}, "axis": {"orient": "left", "values": [3,4,5,6,7,8,9], "title": "SST [°C]", "titleX": -18}},
  "detail": {"field": "f"}}},
{"data": {"name": "fc"}, "transform": [{"filter": "datum.p=='c'"}, {"flatten": ["d", "g", "n"]}],
 "mark": {"type": "line", "stroke": "#1a1a1a", "strokeWidth": 1.3, "interpolate": "monotone"},
 "encoding": {
  "x": {"field": "d", "type": "quantitative", "scale": {"domain": [1, 34], "nice": false, "zero": false}, "axis": {"orient": "top", "values": [1,4,7,10,13,16,19,22,25,28,31,34], "labels": false, "title": null}},
  "y": {"field": "g", "type": "quantitative", "scale": {"domain": [3, 9], "nice": false, "zero": false}, "axis": {"orient": "right", "values": [3,4,5,6,7,8,9], "labels": false, "title": null}},
  "detail": {"field": "f"}}},
{"data": {"name": "fc"}, "transform": [{"filter": "datum.p=='c'"}, {"flatten": ["d", "g", "n"]}, {"filter": "datum.d==datum.f"}],
 "mark": {"type": "circle", "color": "#000", "size": 30, "opacity": 1},
 "encoding": {"x": {"field": "d", "type": "quantitative", "scale": {"domain": [1, 34], "nice": false, "zero": false}, "axis": null}, "y": {"field": "g", "type": "quantitative", "scale": {"domain": [3, 9], "nice": false, "zero": false}, "axis": null}}},
{"data": {"name": "obs"}, "transform": [{"filter": "datum.p=='c'"}, {"flatten": ["d", "v"]}],
 "mark": {"type": "point", "shape": "circle", "filled": false, "stroke": "#555", "strokeWidth": 1.4, "size": 36, "opacity": 1},
 "encoding": {"x": {"field": "d", "type": "quantitative", "scale": {"domain": [1, 34], "nice": false, "zero": false}, "axis": null}, "y": {"field": "v", "type": "quantitative", "scale": {"domain": [3, 9], "nice": false, "zero": false}, "axis": null}}},
{"data": {"values": [{"t": "(c) Chilbaldo"}]},
 "mark": {"type": "text"},
 "encoding": {"x": {"datum": 2.2, "type": "quantitative", "axis": null}, "y": {"datum": 7.93, "type": "quantitative", "axis": null}, "text": {"field": "t"}}}
],
"resolve": {"axis": {"x": "independent", "y": "independent"}}
},
{
"width": 457, "height": 157,
"layer": [
{"data": {"name": "fc"}, "transform": [{"filter": "datum.p=='e'"}, {"flatten": ["d", "g", "n"]}],
 "mark": {"type": "line", "stroke": "#8c8c8c", "strokeWidth": 1.8, "interpolate": "monotone"},
 "encoding": {
  "x": {"field": "d", "type": "quantitative", "scale": {"domain": [1, 34], "nice": false, "zero": false}, "axis": {"orient": "bottom", "values": [1,4,7,10,13,16,19,22,25,28,31,34], "labelExpr": "datum.value > 28 ? '' + (datum.value - 28) : datum.label", "title": null}},
  "y": {"field": "n", "type": "quantitative", "scale": {"domain": [11, 17], "nice": false, "zero": false}, "axis": {"orient": "left", "values": [11,12,13,14,15,16,17], "title": "SST [°C]", "titleX": -18}},
  "detail": {"field": "f"}}},
{"data": {"name": "fc"}, "transform": [{"filter": "datum.p=='e'"}, {"flatten": ["d", "g", "n"]}],
 "mark": {"type": "line", "stroke": "#1a1a1a", "strokeWidth": 1.3, "interpolate": "monotone"},
 "encoding": {
  "x": {"field": "d", "type": "quantitative", "scale": {"domain": [1, 34], "nice": false, "zero": false}, "axis": {"orient": "top", "values": [1,4,7,10,13,16,19,22,25,28,31,34], "labels": false, "title": null}},
  "y": {"field": "g", "type": "quantitative", "scale": {"domain": [11, 17], "nice": false, "zero": false}, "axis": {"orient": "right", "values": [11,12,13,14,15,16,17], "labels": false, "title": null}},
  "detail": {"field": "f"}}},
{"data": {"name": "fc"}, "transform": [{"filter": "datum.p=='e'"}, {"flatten": ["d", "g", "n"]}, {"filter": "datum.d==datum.f"}],
 "mark": {"type": "circle", "color": "#000", "size": 30, "opacity": 1},
 "encoding": {"x": {"field": "d", "type": "quantitative", "scale": {"domain": [1, 34], "nice": false, "zero": false}, "axis": null}, "y": {"field": "g", "type": "quantitative", "scale": {"domain": [11, 17], "nice": false, "zero": false}, "axis": null}}},
{"data": {"name": "obs"}, "transform": [{"filter": "datum.p=='e'"}, {"flatten": ["d", "v"]}],
 "mark": {"type": "point", "shape": "circle", "filled": false, "stroke": "#555", "strokeWidth": 1.4, "size": 36, "opacity": 1},
 "encoding": {"x": {"field": "d", "type": "quantitative", "scale": {"domain": [1, 34], "nice": false, "zero": false}, "axis": null}, "y": {"field": "v", "type": "quantitative", "scale": {"domain": [11, 17], "nice": false, "zero": false}, "axis": null}}},
{"data": {"values": [{"t": "(e) Geojedo"}]},
 "mark": {"type": "text"},
 "encoding": {"x": {"datum": 1.9, "type": "quantitative", "axis": null}, "y": {"datum": 15.9, "type": "quantitative", "axis": null}, "text": {"field": "t"}}}
],
"resolve": {"axis": {"x": "independent", "y": "independent"}}
},
{
"width": 457, "height": 158,
"layer": [
{"data": {"name": "fc"}, "transform": [{"filter": "datum.p=='g'"}, {"flatten": ["d", "g", "n"]}],
 "mark": {"type": "line", "stroke": "#8c8c8c", "strokeWidth": 1.8, "interpolate": "monotone"},
 "encoding": {
  "x": {"field": "d", "type": "quantitative", "scale": {"domain": [1, 34], "nice": false, "zero": false}, "axis": {"orient": "bottom", "values": [1,4,7,10,13,16,19,22,25,28,31,34], "labelExpr": "datum.value > 28 ? '' + (datum.value - 28) : datum.label", "title": "Time [day]", "titleFont": "Noto Sans", "titleFontSize": 19, "titlePadding": 13, "titleColor": "#222"}},
  "y": {"field": "n", "type": "quantitative", "scale": {"domain": [6, 12], "nice": false, "zero": false}, "axis": {"orient": "left", "values": [6,7,8,9,10,11,12], "title": "SST [°C]", "titleX": -18}},
  "detail": {"field": "f"}}},
{"data": {"name": "fc"}, "transform": [{"filter": "datum.p=='g'"}, {"flatten": ["d", "g", "n"]}],
 "mark": {"type": "line", "stroke": "#1a1a1a", "strokeWidth": 1.3, "interpolate": "monotone"},
 "encoding": {
  "x": {"field": "d", "type": "quantitative", "scale": {"domain": [1, 34], "nice": false, "zero": false}, "axis": {"orient": "top", "values": [1,4,7,10,13,16,19,22,25,28,31,34], "labels": false, "title": null}},
  "y": {"field": "g", "type": "quantitative", "scale": {"domain": [6, 12], "nice": false, "zero": false}, "axis": {"orient": "right", "values": [6,7,8,9,10,11,12], "labels": false, "title": null}},
  "detail": {"field": "f"}}},
{"data": {"name": "fc"}, "transform": [{"filter": "datum.p=='g'"}, {"flatten": ["d", "g", "n"]}, {"filter": "datum.d==datum.f"}],
 "mark": {"type": "circle", "color": "#000", "size": 30, "opacity": 1},
 "encoding": {"x": {"field": "d", "type": "quantitative", "scale": {"domain": [1, 34], "nice": false, "zero": false}, "axis": null}, "y": {"field": "g", "type": "quantitative", "scale": {"domain": [6, 12], "nice": false, "zero": false}, "axis": null}}},
{"data": {"name": "obs"}, "transform": [{"filter": "datum.p=='g'"}, {"flatten": ["d", "v"]}],
 "mark": {"type": "point", "shape": "circle", "filled": false, "stroke": "#555", "strokeWidth": 1.4, "size": 36, "opacity": 1},
 "encoding": {"x": {"field": "d", "type": "quantitative", "scale": {"domain": [1, 34], "nice": false, "zero": false}, "axis": null}, "y": {"field": "v", "type": "quantitative", "scale": {"domain": [6, 12], "nice": false, "zero": false}, "axis": null}}},
{"data": {"values": [{"t": "(g) Donghae"}]},
 "mark": {"type": "text"},
 "encoding": {"x": {"datum": 1.95, "type": "quantitative", "axis": null}, "y": {"datum": 6.72, "type": "quantitative", "axis": null}, "text": {"field": "t"}}},
{"data": {"values": [{"t": "Feb."}]},
 "mark": {"type": "text", "fontSize": 18},
 "encoding": {"x": {"datum": 1, "type": "quantitative", "axis": null}, "y": {"datum": 4.71, "type": "quantitative", "axis": null}, "text": {"field": "t"}}}
],
"resolve": {"axis": {"x": "independent", "y": "independent"}}
}
]
},
{
"spacing": 0,
"bounds": "flush",
"vconcat": [
{"width": 457, "height": 9, "view": {"stroke": null}, "data": {"values": [{}]}, "mark": {"type": "point", "opacity": 0}},
{
"spacing": 44,
"bounds": "flush",
"vconcat": [
{
"width": 457, "height": 165,
"layer": [
{"data": {"name": "fc"}, "transform": [{"filter": "datum.p=='b'"}, {"flatten": ["d", "g", "n"]}],
 "mark": {"type": "line", "stroke": "#8c8c8c", "strokeWidth": 1.8, "interpolate": "monotone"},
 "encoding": {
  "x": {"field": "d", "type": "quantitative", "scale": {"domain": [1, 34], "nice": false, "zero": false}, "axis": {"orient": "bottom", "values": [1,4,7,10,13,16,19,22,25,28,31,34], "labelExpr": "datum.value > 28 ? '' + (datum.value - 28) : datum.label", "title": null}},
  "y": {"field": "n", "type": "quantitative", "scale": {"domain": [2, 8], "nice": false, "zero": false}, "axis": {"orient": "left", "values": [2,3,4,5,6,7,8], "title": null}},
  "detail": {"field": "f"}}},
{"data": {"name": "fc"}, "transform": [{"filter": "datum.p=='b'"}, {"flatten": ["d", "g", "n"]}],
 "mark": {"type": "line", "stroke": "#1a1a1a", "strokeWidth": 1.3, "interpolate": "monotone"},
 "encoding": {
  "x": {"field": "d", "type": "quantitative", "scale": {"domain": [1, 34], "nice": false, "zero": false}, "axis": {"orient": "top", "values": [1,4,7,10,13,16,19,22,25,28,31,34], "labels": false, "title": null}},
  "y": {"field": "g", "type": "quantitative", "scale": {"domain": [2, 8], "nice": false, "zero": false}, "axis": {"orient": "right", "values": [2,3,4,5,6,7,8], "labels": false, "title": null}},
  "detail": {"field": "f"}}},
{"data": {"name": "fc"}, "transform": [{"filter": "datum.p=='b'"}, {"flatten": ["d", "g", "n"]}, {"filter": "datum.d==datum.f"}],
 "mark": {"type": "circle", "color": "#000", "size": 30, "opacity": 1},
 "encoding": {"x": {"field": "d", "type": "quantitative", "scale": {"domain": [1, 34], "nice": false, "zero": false}, "axis": null}, "y": {"field": "g", "type": "quantitative", "scale": {"domain": [2, 8], "nice": false, "zero": false}, "axis": null}}},
{"data": {"name": "obs"}, "transform": [{"filter": "datum.p=='b'"}, {"flatten": ["d", "v"]}],
 "mark": {"type": "point", "shape": "circle", "filled": false, "stroke": "#555", "strokeWidth": 1.4, "size": 36, "opacity": 1},
 "encoding": {"x": {"field": "d", "type": "quantitative", "scale": {"domain": [1, 34], "nice": false, "zero": false}, "axis": null}, "y": {"field": "v", "type": "quantitative", "scale": {"domain": [2, 8], "nice": false, "zero": false}, "axis": null}}},
{"data": {"values": [{"t": "(b) Oeyeondo"}]},
 "mark": {"type": "text"},
 "encoding": {"x": {"datum": 1.95, "type": "quantitative", "axis": null}, "y": {"datum": 6.98, "type": "quantitative", "axis": null}, "text": {"field": "t"}}}
],
"resolve": {"axis": {"x": "independent", "y": "independent"}}
},
{
"width": 457, "height": 166,
"layer": [
{"data": {"name": "fc"}, "transform": [{"filter": "datum.p=='d'"}, {"flatten": ["d", "g", "n"]}],
 "mark": {"type": "line", "stroke": "#8c8c8c", "strokeWidth": 1.8, "interpolate": "monotone"},
 "encoding": {
  "x": {"field": "d", "type": "quantitative", "scale": {"domain": [1, 34], "nice": false, "zero": false}, "axis": {"orient": "bottom", "values": [1,4,7,10,13,16,19,22,25,28,31,34], "labelExpr": "datum.value > 28 ? '' + (datum.value - 28) : datum.label", "title": null}},
  "y": {"field": "n", "type": "quantitative", "scale": {"domain": [10, 16], "nice": false, "zero": false}, "axis": {"orient": "left", "values": [10,11,12,13,14,15,16], "title": null}},
  "detail": {"field": "f"}}},
{"data": {"name": "fc"}, "transform": [{"filter": "datum.p=='d'"}, {"flatten": ["d", "g", "n"]}],
 "mark": {"type": "line", "stroke": "#1a1a1a", "strokeWidth": 1.3, "interpolate": "monotone"},
 "encoding": {
  "x": {"field": "d", "type": "quantitative", "scale": {"domain": [1, 34], "nice": false, "zero": false}, "axis": {"orient": "top", "values": [1,4,7,10,13,16,19,22,25,28,31,34], "labels": false, "title": null}},
  "y": {"field": "g", "type": "quantitative", "scale": {"domain": [10, 16], "nice": false, "zero": false}, "axis": {"orient": "right", "values": [10,11,12,13,14,15,16], "labels": false, "title": null}},
  "detail": {"field": "f"}}},
{"data": {"name": "fc"}, "transform": [{"filter": "datum.p=='d'"}, {"flatten": ["d", "g", "n"]}, {"filter": "datum.d==datum.f"}],
 "mark": {"type": "circle", "color": "#000", "size": 30, "opacity": 1},
 "encoding": {"x": {"field": "d", "type": "quantitative", "scale": {"domain": [1, 34], "nice": false, "zero": false}, "axis": null}, "y": {"field": "g", "type": "quantitative", "scale": {"domain": [10, 16], "nice": false, "zero": false}, "axis": null}}},
{"data": {"name": "obs"}, "transform": [{"filter": "datum.p=='d'"}, {"flatten": ["d", "v"]}],
 "mark": {"type": "point", "shape": "circle", "filled": false, "stroke": "#555", "strokeWidth": 1.4, "size": 36, "opacity": 1},
 "encoding": {"x": {"field": "d", "type": "quantitative", "scale": {"domain": [1, 34], "nice": false, "zero": false}, "axis": null}, "y": {"field": "v", "type": "quantitative", "scale": {"domain": [10, 16], "nice": false, "zero": false}, "axis": null}}},
{"data": {"values": [{"t": "(d) Geomundo"}]},
 "mark": {"type": "text"},
 "encoding": {"x": {"datum": 1.8, "type": "quantitative", "axis": null}, "y": {"datum": 15.03, "type": "quantitative", "axis": null}, "text": {"field": "t"}}}
],
"resolve": {"axis": {"x": "independent", "y": "independent"}}
},
{
"width": 457, "height": 166,
"layer": [
{"data": {"name": "fc"}, "transform": [{"filter": "datum.p=='f'"}, {"flatten": ["d", "g", "n"]}],
 "mark": {"type": "line", "stroke": "#8c8c8c", "strokeWidth": 1.8, "interpolate": "monotone"},
 "encoding": {
  "x": {"field": "d", "type": "quantitative", "scale": {"domain": [1, 34], "nice": false, "zero": false}, "axis": {"orient": "bottom", "values": [1,4,7,10,13,16,19,22,25,28,31,34], "labelExpr": "datum.value > 28 ? '' + (datum.value - 28) : datum.label", "title": null}},
  "y": {"field": "n", "type": "quantitative", "scale": {"domain": [9, 15], "nice": false, "zero": false}, "axis": {"orient": "left", "values": [9,10,11,12,13,14,15], "title": null}},
  "detail": {"field": "f"}}},
{"data": {"name": "fc"}, "transform": [{"filter": "datum.p=='f'"}, {"flatten": ["d", "g", "n"]}],
 "mark": {"type": "line", "stroke": "#1a1a1a", "strokeWidth": 1.3, "interpolate": "monotone"},
 "encoding": {
  "x": {"field": "d", "type": "quantitative", "scale": {"domain": [1, 34], "nice": false, "zero": false}, "axis": {"orient": "top", "values": [1,4,7,10,13,16,19,22,25,28,31,34], "labels": false, "title": null}},
  "y": {"field": "g", "type": "quantitative", "scale": {"domain": [9, 15], "nice": false, "zero": false}, "axis": {"orient": "right", "values": [9,10,11,12,13,14,15], "labels": false, "title": null}},
  "detail": {"field": "f"}}},
{"data": {"name": "fc"}, "transform": [{"filter": "datum.p=='f'"}, {"flatten": ["d", "g", "n"]}, {"filter": "datum.d==datum.f"}],
 "mark": {"type": "circle", "color": "#000", "size": 30, "opacity": 1},
 "encoding": {"x": {"field": "d", "type": "quantitative", "scale": {"domain": [1, 34], "nice": false, "zero": false}, "axis": null}, "y": {"field": "g", "type": "quantitative", "scale": {"domain": [9, 15], "nice": false, "zero": false}, "axis": null}}},
{"data": {"name": "obs"}, "transform": [{"filter": "datum.p=='f'"}, {"flatten": ["d", "v"]}],
 "mark": {"type": "point", "shape": "circle", "filled": false, "stroke": "#555", "strokeWidth": 1.4, "size": 36, "opacity": 1},
 "encoding": {"x": {"field": "d", "type": "quantitative", "scale": {"domain": [1, 34], "nice": false, "zero": false}, "axis": null}, "y": {"field": "v", "type": "quantitative", "scale": {"domain": [9, 15], "nice": false, "zero": false}, "axis": null}}},
{"data": {"values": [{"t": "(f) Pohang"}]},
 "mark": {"type": "text"},
 "encoding": {"x": {"datum": 1.9, "type": "quantitative", "axis": null}, "y": {"datum": 13.9, "type": "quantitative", "axis": null}, "text": {"field": "t"}}}
],
"resolve": {"axis": {"x": "independent", "y": "independent"}}
},
{
"width": 457, "height": 166,
"layer": [
{"data": {"name": "fc"}, "transform": [{"filter": "datum.p=='h'"}, {"flatten": ["d", "g", "n"]}],
 "mark": {"type": "line", "stroke": "#8c8c8c", "strokeWidth": 1.8, "interpolate": "monotone"},
 "encoding": {
  "x": {"field": "d", "type": "quantitative", "scale": {"domain": [1, 34], "nice": false, "zero": false}, "axis": {"orient": "bottom", "values": [1,4,7,10,13,16,19,22,25,28,31,34], "labelExpr": "datum.value > 28 ? '' + (datum.value - 28) : datum.label", "title": "Time [day]", "titleFont": "Noto Sans", "titleFontSize": 19, "titlePadding": 6, "titleColor": "#222"}},
  "y": {"field": "n", "type": "quantitative", "scale": {"domain": [8, 14], "nice": false, "zero": false}, "axis": {"orient": "left", "values": [8,9,10,11,12,13,14], "title": null}},
  "detail": {"field": "f"}}},
{"data": {"name": "fc"}, "transform": [{"filter": "datum.p=='h'"}, {"flatten": ["d", "g", "n"]}],
 "mark": {"type": "line", "stroke": "#1a1a1a", "strokeWidth": 1.3, "interpolate": "monotone"},
 "encoding": {
  "x": {"field": "d", "type": "quantitative", "scale": {"domain": [1, 34], "nice": false, "zero": false}, "axis": {"orient": "top", "values": [1,4,7,10,13,16,19,22,25,28,31,34], "labels": false, "title": null}},
  "y": {"field": "g", "type": "quantitative", "scale": {"domain": [8, 14], "nice": false, "zero": false}, "axis": {"orient": "right", "values": [8,9,10,11,12,13,14], "labels": false, "title": null}},
  "detail": {"field": "f"}}},
{"data": {"name": "fc"}, "transform": [{"filter": "datum.p=='h'"}, {"flatten": ["d", "g", "n"]}, {"filter": "datum.d==datum.f"}],
 "mark": {"type": "circle", "color": "#000", "size": 30, "opacity": 1},
 "encoding": {"x": {"field": "d", "type": "quantitative", "scale": {"domain": [1, 34], "nice": false, "zero": false}, "axis": null}, "y": {"field": "g", "type": "quantitative", "scale": {"domain": [8, 14], "nice": false, "zero": false}, "axis": null}}},
{"data": {"name": "obs"}, "transform": [{"filter": "datum.p=='h'"}, {"flatten": ["d", "v"]}],
 "mark": {"type": "point", "shape": "circle", "filled": false, "stroke": "#555", "strokeWidth": 1.4, "size": 36, "opacity": 1},
 "encoding": {"x": {"field": "d", "type": "quantitative", "scale": {"domain": [1, 34], "nice": false, "zero": false}, "axis": null}, "y": {"field": "v", "type": "quantitative", "scale": {"domain": [8, 14], "nice": false, "zero": false}, "axis": null}}},
{"data": {"values": [{"t": "(h) Ulleungdo"}]},
 "mark": {"type": "text"},
 "encoding": {"x": {"datum": 2.15, "type": "quantitative", "axis": null}, "y": {"datum": 8.58, "type": "quantitative", "axis": null}, "text": {"field": "t"}}},
{"data": {"values": [{"t": "Feb."}]},
 "mark": {"type": "text", "fontSize": 18},
 "encoding": {"x": {"datum": 1, "type": "quantitative", "axis": null}, "y": {"datum": 6.74, "type": "quantitative", "axis": null}, "text": {"field": "t"}}}
],
"resolve": {"axis": {"x": "independent", "y": "independent"}}
}
]
}
]
}
]
}
